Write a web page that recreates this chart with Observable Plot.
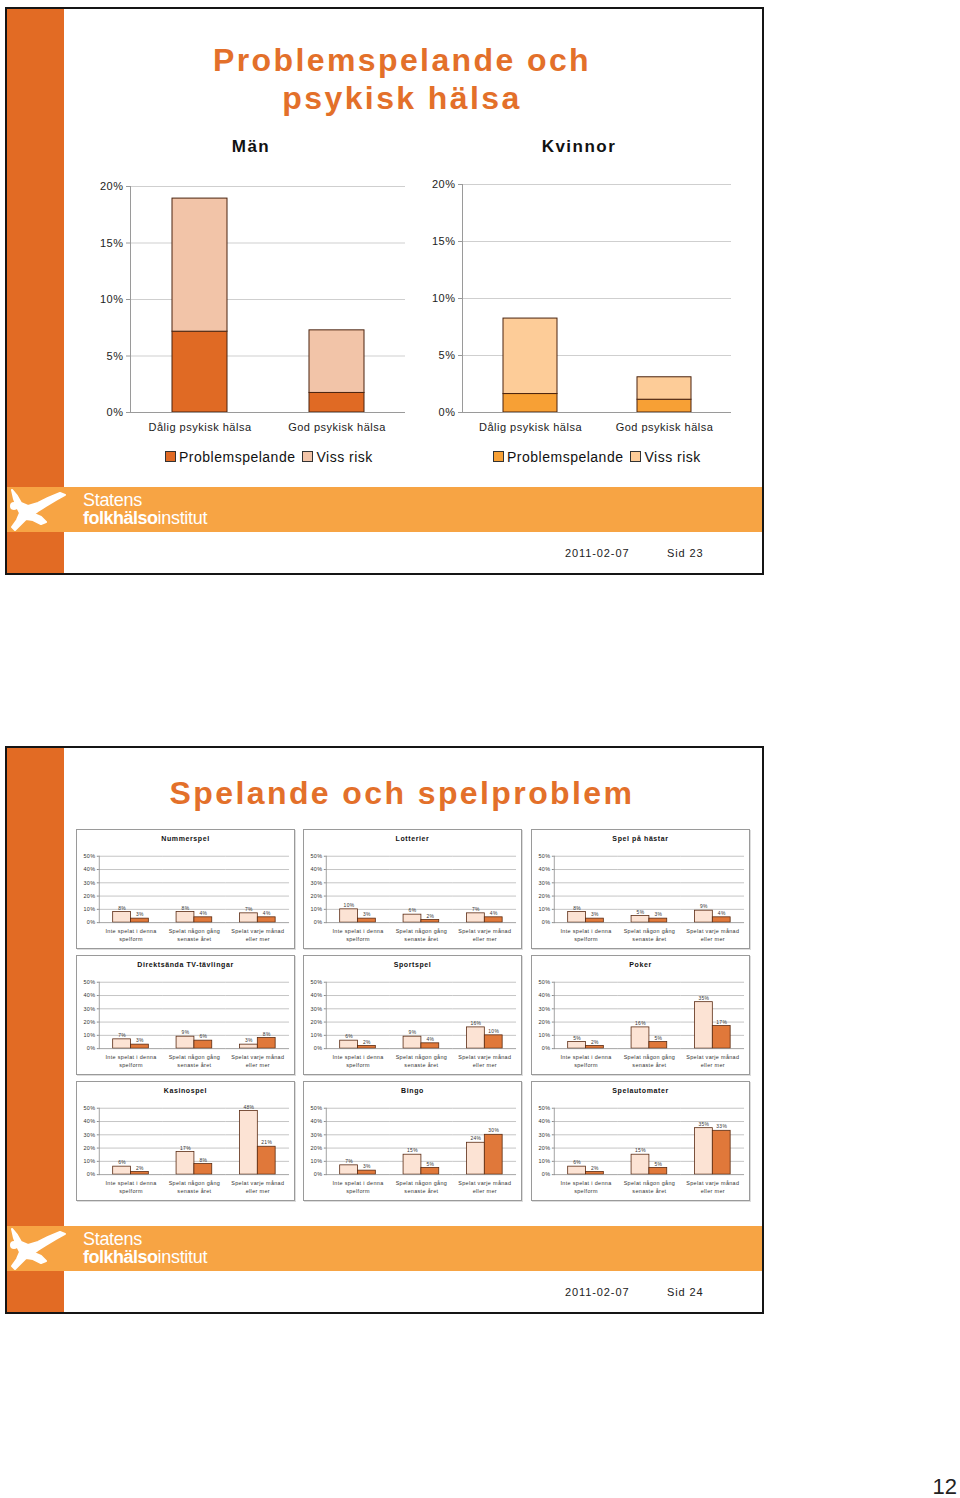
<!DOCTYPE html>
<html>
<head>
<meta charset="utf-8">
<script src="https://cdn.jsdelivr.net/npm/d3@7"></script>
<script src="https://cdn.jsdelivr.net/npm/@observablehq/plot@0.6"></script>
<style>
  html, body { margin: 0; padding: 0; background: #fff; }
  #page { position: relative; width: 960px; height: 1498px; overflow: hidden; font-family: "Liberation Sans", Arial, sans-serif; color: #222; }
  .abs { position: absolute; }
  .slide { position: absolute; border: 2px solid #151515; background: #fff; box-sizing: border-box; }
  .bar { position: absolute; background: #E26B24; }
  .band { position: absolute; background: #F7A444; }
  .title { position: absolute; color: #E3702A; font-weight: bold; font-size: 32px; letter-spacing: 2.4px; text-align: center; line-height: 38px; }
  .heading { position: absolute; font-weight: bold; font-size: 17px; letter-spacing: 1.5px; text-align: center; width: 120px; line-height: 20px; color: #111; }
  .legend { position: absolute; font-size: 14px; letter-spacing: 0.5px; line-height: 16px; white-space: nowrap; color: #111; }
  .legend span.sw { display: inline-block; width: 9px; height: 9px; border: 1px solid #333; margin-right: 3px; vertical-align: 0px; }
  .legend span.item { margin-right: 7px; }
  .foot { position: absolute; font-size: 11px; letter-spacing: 0.9px; color: #222; white-space: nowrap; }
  .logo1 { position: absolute; color: #fff; font-family: "Liberation Sans Narrow", "Liberation Sans", Arial, sans-serif; font-size: 18px; line-height: 18px; white-space: nowrap; letter-spacing: -0.3px; }
  .panel { position: absolute; width: 219px; height: 120px; border: 1px solid #9a9a9a; box-sizing: border-box; background: #fff; box-shadow: 1px 1px 0 #ddd; }
  .panel .pt { position: absolute; left: 0; top: 5px; width: 100%; text-align: center; font-weight: bold; font-size: 7px; letter-spacing: 0.6px; color: #111; }
  .panel svg { position: absolute; left: -1px; top: -1px; }
  .chart svg { display: block; }
  .pageno { position: absolute; right: 3px; top: 1474px; font-size: 22px; line-height: 26px; color: #222; white-space: nowrap; }
</style>
</head>
<body>
<div id="page"></div>
<script>
// ---------------- Data ----------------
// Slide 1: Problemspelande och psykisk hälsa (stacked, share of population)
const healthCats = ["Dålig psykisk hälsa", "God psykisk hälsa"];
const riskSeries = ["Problemspelande", "Viss risk"];
const menProblem = [7.15, 1.73];
const menVissRisk = [11.78, 5.54];
const womenProblem = [1.62, 1.12];
const womenVissRisk = [6.62, 1.97];
const bigTicks = [0, 0.05, 0.10, 0.15, 0.20];

// Slide 2: Spelande och spelproblem (9 panels)
const gameCats = ["Inte spelat i denna\nspelform", "Spelat någon gång\nsenaste året", "Spelat varje månad\neller mer"];
const gameSeries = ["Serie 1", "Serie 2"];
const panelTitles = ["Nummerspel", "Lotterier", "Spel på hästar",
                     "Direktsända TV-tävlingar", "Sportspel", "Poker",
                     "Kasinospel", "Bingo", "Spelautomater"];
const lightValues = [[8, 8, 7], [10, 6, 7], [8, 5, 9],
                     [7, 9, 3], [6, 9, 16], [5, 16, 35],
                     [6, 17, 48], [7, 15, 24], [6, 15, 35]];
const darkValues  = [[3, 4, 4], [3, 2, 4], [3, 3, 4],
                     [3, 6, 8], [2, 4, 10], [2, 5, 17],
                     [2, 8, 21], [3, 5, 30], [2, 5, 33]];
const smallTicks = [0, 0.1, 0.2, 0.3, 0.4, 0.5];

// ---------------- Helpers ----------------
const page = document.getElementById("page");
function el(cls, css, html) {
  const d = document.createElement("div");
  d.className = cls;
  Object.assign(d.style, css);
  if (html !== undefined) d.innerHTML = html;
  page.appendChild(d);
  return d;
}
const pct = d3.format(".0%");
const FONT = "'Liberation Sans', Arial, sans-serif";

function logo(top) {
  el("abs", {left: "8px", top: (top) + "px", width: "60px", height: "46px"},
    `<svg width="60" height="46" viewBox="0 0 60 46">
      <g fill="#fff" stroke="#fff" stroke-linecap="round" stroke-linejoin="round">
        <path d="M4 3 L9 9 L13 16 L20 19 L30 16 L40 11 L52 6 L57 8 L48 13 L38 19 L30 24 L26 27 L33 30 L38 35 L33 37 L25 33 L18 32 L12 38 L7 43 L4 40 L9 33 L12 26 L9 20 L6 12 Z" stroke-width="2"/>
        <circle cx="6" cy="19" r="4" stroke="none"/>
      </g>
    </svg>`);
  el("logo1", {left: "83px", top: (top + 4) + "px"}, "Statens");
  el("logo1", {left: "83px", top: (top + 22) + "px"}, "<b style='letter-spacing:-0.5px'>folkhälso</b>institut");
}

function slideFrame(top, titleHtml, titleTop, date, sid) {
  el("slide", {left: "5px", top: top + "px", width: "759px", height: "568px"});
  el("bar", {left: "7px", top: (top + 2) + "px", width: "57px", height: "564px"});
  el("band", {left: "7px", top: (top + 480) + "px", width: "755px", height: "45px"});
  logo(top + 480);
  el("foot", {left: "565px", top: (top + 540) + "px"}, date);
  el("foot", {left: "667px", top: (top + 540) + "px"}, sid);
  el("title", {left: "64px", top: titleTop + "px", width: "676px"}, titleHtml);
}

// ---------------- Slide 1 ----------------
slideFrame(7, "Problemspelande och<br>psykisk hälsa", 41, "2011-02-07", "Sid 23");
el("heading", {left: "191px", top: "137px"}, "Män");
el("heading", {left: "519px", top: "137px"}, "Kvinnor");

function bigChart(problem, viss, colors, o) {
  const rows = [];
  healthCats.forEach((c, i) => {
    rows.push({cat: c, series: riskSeries[0], value: problem[i] / 100});
    rows.push({cat: c, series: riskSeries[1], value: viss[i] / 100});
  });
  return Plot.plot({
    width: o.width, height: o.height,
    marginLeft: o.ml, marginRight: o.mr, marginTop: o.mt, marginBottom: o.mb,
    style: {fontFamily: FONT, fontSize: "11px", letterSpacing: "0.5px", color: "#222", background: "transparent", overflow: "visible"},
    x: {domain: healthCats, paddingInner: 0.6, paddingOuter: 0.3, label: null},
    y: {domain: [0, 0.2], label: null},
    color: {domain: riskSeries, range: colors},
    marks: [
      Plot.gridY(bigTicks.slice(1), {stroke: "#cfcfcf", strokeOpacity: 1}),
      Plot.barY(rows, {x: "cat", y: "value", fill: "series", stroke: "#4a230e", strokeWidth: 1, order: riskSeries}),
      Plot.ruleY([0], {stroke: "#9a9a9a"}),
      Plot.frame({anchor: "left", stroke: "#9a9a9a"}),
      Plot.axisY(bigTicks, {tickFormat: pct, tickSize: 4, tickPadding: 3, stroke: "#9a9a9a", label: null}),
      Plot.axisX({tickSize: 0, tickPadding: 11, label: null})
    ]
  });
}

const men = bigChart(menProblem, menVissRisk, ["#E06A24", "#F2C4A8"],
  {width: 320, height: 272, ml: 35, mr: 10, mt: 16, mb: 30});
el("chart abs", {left: "95px", top: "170px"}).appendChild(men);

const women = bigChart(womenProblem, womenVissRisk, ["#F7A035", "#FDCC98"],
  {width: 320, height: 272, ml: 37, mr: 14, mt: 14, mb: 30});
el("chart abs", {left: "425px", top: "170px"}).appendChild(women);

function legend(left, colors) {
  el("legend", {left: left + "px", top: "449px"},
    riskSeries.map((s, i) => `<span class="item"><span class="sw" style="background:${colors[i]}"></span>${s}</span>`).join(""));
}
legend(165, ["#E06A24", "#F2C4A8"]);
legend(493, ["#F7A035", "#FDCC98"]);

// ---------------- Slide 2 ----------------
slideFrame(746, "Spelande och spelproblem", 774, "2011-02-07", "Sid 24");

const panelX = [76, 303, 531];
const panelY = [829, 955, 1081];

function smallChart(k) {
  const rows = [];
  gameCats.forEach((c, i) => {
    rows.push({cat: c, series: gameSeries[0], value: lightValues[k][i] / 100});
    rows.push({cat: c, series: gameSeries[1], value: darkValues[k][i] / 100});
  });
  return Plot.plot({
    width: 219, height: 120,
    marginLeft: 22, marginRight: 3, marginTop: 27, marginBottom: 26,
    style: {fontFamily: FONT, fontSize: "5.5px", letterSpacing: "0.35px", color: "#333", background: "transparent", overflow: "visible"},
    fx: {domain: gameCats, padding: 0, label: null},
    x: {domain: gameSeries, paddingInner: 0, paddingOuter: 0.75, axis: null},
    y: {domain: [0, 0.5], label: null},
    color: {domain: gameSeries, range: ["#FCE3D4", "#E0783A"]},
    marks: [
      Plot.gridY(smallTicks.slice(1), {stroke: "#b5b5b5", strokeOpacity: 1, strokeWidth: 0.8}),
      Plot.barY(rows, {fx: "cat", x: "series", y: "value", fill: "series", stroke: "#5a2a12", strokeWidth: 0.8}),
      Plot.text(rows, {fx: "cat", x: "series", y: "value", text: d => pct(d.value), dy: -4, fontSize: 5, fill: "#333"}),
      Plot.ruleY([0], {stroke: "#8a8a8a", strokeWidth: 0.8}),
      Plot.frame({anchor: "left", facetAnchor: "left", stroke: "#8a8a8a", strokeWidth: 0.8}),
      Plot.axisY(smallTicks, {tickFormat: pct, tickSize: 2, tickPadding: 2, stroke: "#8a8a8a", label: null}),
      Plot.axisFx({anchor: "bottom", tickSize: 0, tickPadding: 5, lineHeight: 1.45, label: null})
    ]
  });
}

for (let k = 0; k < 9; k++) {
  const p = el("panel", {left: panelX[k % 3] + "px", top: panelY[Math.floor(k / 3)] + "px"});
  const t = document.createElement("div");
  t.className = "pt";
  t.textContent = panelTitles[k];
  p.appendChild(t);
  p.appendChild(smallChart(k));
}

// page number
el("pageno", {}, "12");
</script>
</body>
</html>
